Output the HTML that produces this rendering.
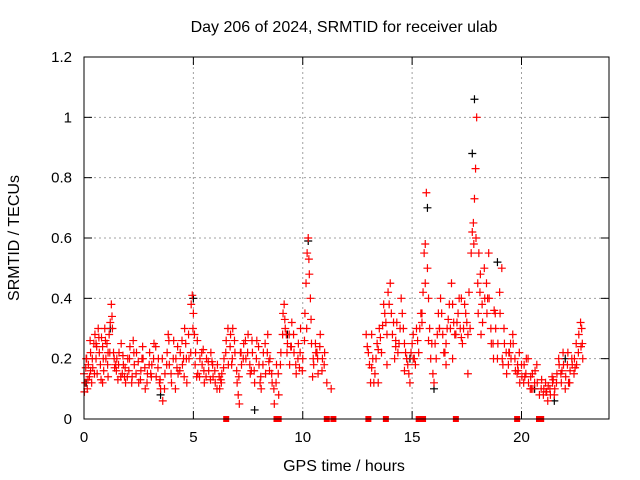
<!DOCTYPE html>
<html><head><meta charset="utf-8"><style>
body{margin:0;background:#fff}
svg{display:block;font-family:"Liberation Sans",sans-serif}
</style></head><body>
<svg id="chart" width="640" height="480" viewBox="0 0 640 480" xmlns="http://www.w3.org/2000/svg">
<rect x="0" y="0" width="640" height="480" fill="#fff"/>
<g id="grid"></g>
<g id="ticks"></g>
<g id="marks"></g>
<rect x="84" y="57" width="525" height="362" fill="none" stroke="#000" stroke-width="1"/>
<text x="344" y="32" font-size="16" text-anchor="middle">Day 206 of 2024, SRMTID for receiver ulab</text>
<text x="344" y="471" font-size="16" text-anchor="middle">GPS time / hours</text>
<text x="19" y="238" font-size="16" text-anchor="middle" transform="rotate(-90 19 238)">SRMTID / TECUs</text>
</svg>
<script>
const xTicks=[0,5,10,15,20];
const yTicks=[0,0.2,0.4,0.6,0.8,1,1.2];
const yTickLabels=["0","0.2","0.4","0.6","0.8","1","1.2"];
const redHours=[0.0,0.05,0.1,0.15,0.2,0.25,0.3,0.35,0.4,0.45,0.5,0.55,0.6,0.65,0.7,0.75,0.8,0.85,0.9,0.95,1.0,1.05,1.1,1.15,1.2,1.25,1.3,1.35,1.4,1.5,1.55,1.6,1.7,1.75,1.8,1.9,2.0,2.05,2.1,2.2,2.3,2.4,2.5,2.6,2.7,2.8,2.9,3.0,3.1,3.2,3.3,3.4,3.5,3.6,3.7,3.8,3.9,4.0,4.1,4.2,4.3,4.4,4.5,4.6,4.65,4.7,4.8,4.9,4.95,5.0,5.05,5.1,5.2,5.3,5.4,5.5,5.6,5.7,5.8,5.9,6.0,6.1,6.2,6.3,6.4,6.5,6.6,6.7,6.8,6.9,7.0,7.05,7.1,7.2,7.3,7.4,7.5,7.6,7.7,7.8,7.9,8.0,8.1,8.2,8.3,8.4,8.5,8.6,8.7,8.8,8.9,9.0,9.1,9.15,9.2,9.3,9.4,9.5,9.6,9.7,9.8,9.9,10.0,10.1,10.15,10.2,10.25,10.3,10.35,10.4,10.5,10.6,10.7,10.8,10.9,11.0,11.1,11.3,12.9,13.0,13.05,13.1,13.2,13.3,13.4,13.5,13.6,13.7,13.8,13.9,14.0,14.05,14.1,14.2,14.3,14.4,14.5,14.6,14.7,14.8,14.9,15.0,15.1,15.2,15.3,15.4,15.5,15.55,15.6,15.65,15.7,15.8,15.9,16.0,16.1,16.2,16.3,16.4,16.5,16.6,16.7,16.8,16.9,17.0,17.1,17.2,17.3,17.4,17.5,17.6,17.7,17.75,17.8,17.85,17.9,17.95,18.0,18.05,18.1,18.2,18.3,18.4,18.5,18.6,18.7,18.8,18.9,19.0,19.1,19.2,19.3,19.4,19.5,19.6,19.7,19.8,19.9,20.0,20.1,20.2,20.3,20.4,20.5,20.6,20.7,20.9,21.0,21.1,21.2,21.3,21.4,21.5,21.6,21.7,21.8,21.9,22.0,22.1,22.2,22.3,22.4,22.5,22.6,22.7,22.75,22.8,
0.12,0.3,0.55,0.85,1.1,1.45,1.85,2.25,2.65,3.05,3.45,3.85,4.25,4.55,5.15,5.45,5.85,6.25,6.75,7.15,7.65,8.05,8.45,9.25,9.45,9.85,10.45,10.65,13.15,13.45,13.85,14.25,14.65,15.05,15.45,15.75,16.25,16.55,16.85,17.25,17.55,18.15,18.45,18.75,19.15,19.45,19.85,20.15,20.45,21.15,21.45,21.85,22.15,22.45];
const redValues=[0.15,0.12,0.2,0.1,0.18,0.14,0.22,0.12,0.17,0.25,0.28,0.2,0.15,0.3,0.22,0.18,0.27,0.24,0.16,0.3,0.2,0.25,0.14,0.28,0.32,0.38,0.3,0.22,0.17,0.2,0.13,0.22,0.25,0.15,0.18,0.12,0.2,0.16,0.24,0.14,0.18,0.22,0.12,0.16,0.2,0.1,0.15,0.22,0.18,0.25,0.14,0.2,0.1,0.06,0.15,0.22,0.18,0.12,0.26,0.2,0.15,0.22,0.18,0.3,0.25,0.12,0.2,0.38,0.41,0.35,0.28,0.22,0.15,0.2,0.18,0.12,0.2,0.16,0.22,0.14,0.12,0.18,0.1,0.15,0.2,0.26,0.18,0.28,0.3,0.22,0.12,0.08,0.05,0.18,0.25,0.2,0.28,0.15,0.22,0.12,0.26,0.18,0.1,0.22,0.15,0.28,0.2,0.12,0.05,0.18,0.08,0.22,0.35,0.38,0.3,0.25,0.18,0.32,0.22,0.15,0.25,0.3,0.2,0.35,0.45,0.55,0.6,0.48,0.4,0.25,0.18,0.22,0.15,0.28,0.2,0.22,0.12,0.1,0.28,0.22,0.18,0.12,0.2,0.15,0.25,0.3,0.22,0.38,0.32,0.42,0.45,0.35,0.28,0.2,0.32,0.25,0.4,0.3,0.22,0.18,0.12,0.25,0.2,0.3,0.22,0.35,0.42,0.55,0.58,0.75,0.5,0.3,0.25,0.12,0.2,0.35,0.4,0.28,0.22,0.3,0.38,0.45,0.32,0.28,0.35,0.3,0.25,0.38,0.32,0.42,0.55,0.62,0.65,0.73,0.83,1.0,0.45,0.55,0.42,0.38,0.5,0.45,0.55,0.3,0.25,0.35,0.2,0.42,0.5,0.3,0.22,0.18,0.25,0.28,0.2,0.15,0.22,0.18,0.12,0.15,0.2,0.1,0.15,0.12,0.18,0.1,0.08,0.12,0.06,0.1,0.14,0.08,0.12,0.2,0.15,0.22,0.1,0.18,0.12,0.2,0.15,0.25,0.22,0.32,0.3,0.2,
0.2,0.16,0.25,0.12,0.22,0.18,0.14,0.26,0.2,0.15,0.12,0.28,0.17,0.2,0.14,0.23,0.19,0.13,0.18,0.22,0.16,0.12,0.19,0.28,0.24,0.17,0.14,0.22,0.28,0.12,0.18,0.24,0.16,0.2,0.35,0.26,0.3,0.18,0.2,0.4,0.15,0.28,0.4,0.36,0.18,0.22,0.16,0.14,0.1,0.09,0.13,0.16,0.12,0.17];
const redHoursB=[0.02,0.08,0.18,0.28,0.38,0.48,0.58,0.68,0.78,0.88,0.98,1.08,1.18,1.28,1.38,1.48,1.58,1.68,1.78,1.88,1.98,2.08,2.18,2.28,2.38,2.48,2.58,2.68,2.78,2.88,2.98,3.08,3.18,3.28,3.38,3.48,3.58,3.68,3.78,3.88,3.98,4.08,4.18,4.28,4.38,4.48,4.58,4.68,4.78,4.88,4.98,5.08,5.18,5.28,5.38,5.48,5.58,5.68,5.78,5.88,5.98,6.08,6.18,6.28,6.38,6.48,6.58,6.68,6.78,6.88,6.98,7.08,7.18,7.28,7.38,7.48,7.58,7.68,7.78,7.88,7.98,8.08,8.18,8.28,8.38,8.48,8.58,8.68,8.78,8.88,8.98,9.08,9.18,9.28,9.38,9.48,9.58,9.68,9.78,9.88,9.98,10.08,10.18,10.28,10.38,10.48,10.58,10.68,10.78,10.88,10.98,12.95,13.15,13.25,13.35,13.45,13.55,13.65,13.75,13.85,13.95,14.15,14.25,14.35,14.45,14.55,14.65,14.75,14.85,14.95,15.05,15.15,15.25,15.35,15.45,15.6,15.75,15.85,15.95,16.05,16.15,16.25,16.35,16.45,16.55,16.65,16.75,16.85,16.95,17.05,17.15,17.25,17.35,17.45,17.55,17.65,17.82,17.92,18.02,18.12,18.22,18.32,18.42,18.52,18.62,18.72,18.82,18.92,19.02,19.12,19.22,19.32,19.42,19.52,19.62,19.72,19.82,19.92,20.02,20.12,20.22,20.32,20.42,20.52,20.62,20.72,20.82,20.92,21.02,21.12,21.22,21.32,21.42,21.52,21.62,21.72,21.82,21.92,22.02,22.12,22.22,22.32,22.42,22.52,22.62,22.72,22.78];
const redValuesB=[0.09,0.17,0.13,0.26,0.2,0.15,0.24,0.27,0.13,0.2,0.26,0.18,0.22,0.34,0.2,0.16,0.18,0.14,0.21,0.17,0.14,0.2,0.12,0.22,0.15,0.19,0.13,0.24,0.17,0.12,0.18,0.14,0.2,0.24,0.17,0.13,0.2,0.1,0.18,0.26,0.15,0.2,0.1,0.24,0.16,0.26,0.14,0.2,0.28,0.22,0.3,0.18,0.26,0.14,0.22,0.16,0.14,0.19,0.13,0.18,0.16,0.1,0.14,0.12,0.17,0.22,0.3,0.24,0.2,0.26,0.16,0.14,0.22,0.2,0.26,0.22,0.18,0.26,0.16,0.2,0.24,0.14,0.18,0.25,0.22,0.16,0.15,0.1,0.12,0.15,0.18,0.28,0.33,0.22,0.28,0.24,0.28,0.18,0.2,0.22,0.16,0.26,0.3,0.53,0.33,0.2,0.25,0.2,0.24,0.16,0.18,0.24,0.17,0.12,0.2,0.23,0.27,0.31,0.35,0.28,0.38,0.32,0.26,0.22,0.3,0.35,0.25,0.2,0.15,0.22,0.28,0.18,0.26,0.3,0.32,0.45,0.4,0.2,0.15,0.25,0.28,0.3,0.35,0.22,0.25,0.33,0.3,0.38,0.28,0.32,0.4,0.27,0.3,0.35,0.28,0.3,0.58,0.6,0.35,0.48,0.32,0.4,0.35,0.4,0.25,0.2,0.3,0.25,0.35,0.2,0.25,0.15,0.22,0.2,0.25,0.16,0.18,0.12,0.14,0.18,0.2,0.12,0.14,0.1,0.16,0.12,0.08,0.13,0.1,0.09,0.11,0.08,0.12,0.1,0.15,0.18,0.12,0.18,0.14,0.22,0.16,0.18,0.2,0.18,0.28,0.24,0.25];
const blackHours=[0.1,1.2,3.5,5.0,7.8,9.3,10.25,14.9,15.7,16.0,17.75,17.85,18.9,20.6,21.5,22.0];
const blackValues=[0.12,0.3,0.08,0.4,0.03,0.28,0.59,0.2,0.7,0.1,0.88,1.06,0.52,0.1,0.06,0.2];
const gapHours=[6.5,8.8,8.9,11.1,11.4,13.0,13.8,15.3,15.4,15.5,17.0,19.8,20.8,20.9];
const X0=84,X1=609,Y0=419,Y1=57,XMAX=24,YMAX=1.2;
const NS="http://www.w3.org/2000/svg";
function xs(h){return X0+(X1-X0)*h/XMAX;}
function ys(v){return Y0-(Y0-Y1)*v/YMAX;}
function mk(t,a,p){const e=document.createElementNS(NS,t);for(const k in a)e.setAttribute(k,a[k]);p.appendChild(e);return e;}
const grid=document.getElementById('grid'),ticks=document.getElementById('ticks'),marks=document.getElementById('marks');
xTicks.forEach(t=>{const x=xs(t);
 if(t>0){const g=mk('line',{x1:x,x2:x,y1:Y1,y2:Y0,stroke:'#a0a0a0','stroke-dasharray':'2,3'},grid);
 
 }
 mk('line',{x1:x,x2:x,y1:Y0,y2:Y0-8,stroke:'#000'},ticks);
 mk('line',{x1:x,x2:x,y1:Y1,y2:Y1+8,stroke:'#000'},ticks);
 const l=mk('text',{x:x,y:Y0+23,'font-size':15,'text-anchor':'middle'},ticks);l.textContent=t;
 
 
});
yTicks.forEach((t,i)=>{const y=ys(t);
 if(t>0&&t<YMAX){const g=mk('line',{x1:X0,x2:X1,y1:y,y2:y,stroke:'#a0a0a0','stroke-dasharray':'2,3'},grid);
 
 }
 mk('line',{x1:X0,x2:X0+8,y1:y,y2:y,stroke:'#000'},ticks);
 mk('line',{x1:X1,x2:X1-8,y1:y,y2:y,stroke:'#000'},ticks);
 const l=mk('text',{x:X0-12,y:y+5,'font-size':15,'text-anchor':'end'},ticks);l.textContent=yTickLabels[i];
 
 
});
function plus(h,v,c,name){const x=xs(h),y=ys(v);
 const p=mk('path',{d:`M${x-4},${y}h8M${x},${y-4}v8`,stroke:c,'stroke-width':1.2,fill:'none'},marks);
 
 }
blackHours.forEach((h,i)=>plus(h,blackValues[i],'#000','black-point'));
redHours.forEach((h,i)=>plus(h,redValues[i],'#f00','red-point'));
redHoursB.forEach((h,i)=>plus(h,redValuesB[i],'#f00','red-point'));
gapHours.forEach(h=>{const r=mk('rect',{x:xs(h)-3,y:Y0-3,width:6,height:6,fill:'#f00'},marks);
 
 });
</script>
</body></html>
